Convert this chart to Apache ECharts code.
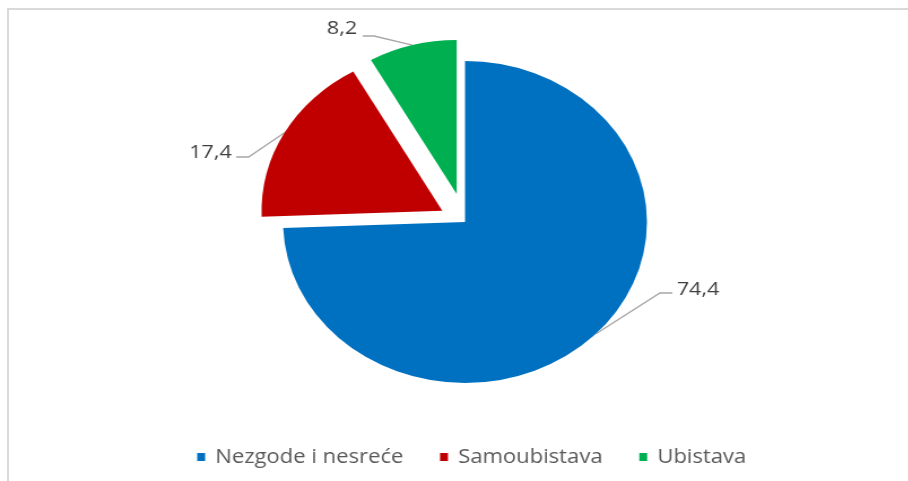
<!DOCTYPE html>
<html><head><meta charset="utf-8">
<script src="https://cdn.jsdelivr.net/npm/echarts@6/dist/echarts.min.js"></script>
<style>
html,body{margin:0;padding:0;background:#fff;overflow:hidden;width:908px;height:481px;}
#frame{position:absolute;left:7px;top:8px;width:910px;height:480px;border:2px solid #d9d9d9;box-sizing:border-box;}
#main{position:absolute;left:0;top:0;width:804px;height:481px;transform:scaleX(1.13);transform-origin:0 0;}
</style></head><body>
<div id="frame"></div>
<div id="main"></div>
<script>
const categories = ['Nezgode i nesreće', 'Samoubistava', 'Ubistava'];
const values = [74.4, 17.4, 8.2];
const colors = ['#0070C0', '#C00000', '#00B050'];
const explodeDist = [0, 23, 29];   // pull-out distance of each slice (layout)
const sliceRadius = [161, 160, 154]; // drawn radius of each slice (layout)

// label placement (layout only, chart space)
const labelSpots = [
  {x: 599, y: 290, align: 'left', elbow: [584, 293], end: [595, 293]},
  {x: 205, y: 153, align: 'right', elbow: [220, 157], end: [209, 157]},
  {x: 316, y: 29, align: 'right', elbow: [331, 36], end: [321, 36]}
];

const CX = 411.5, CY = 222;
const total = values.reduce((a, b) => a + b, 0);
let acc = 0;
const centers = values.map((v, i) => {
  const mid = (acc + v / 2) / total * 2 * Math.PI; // clockwise from 12 o'clock
  acc += v;
  const d = explodeDist[i];
  return [CX + d * Math.sin(mid), CY - d * Math.cos(mid)];
});

const fmt = p => String(p.value).replace('.', ',');

const series = categories.map((cat, k) => ({
  type: 'pie',
  name: cat,
  center: centers[k],
  radius: sliceRadius[k],
  startAngle: 90,
  clockwise: true,
  avoidLabelOverlap: false,
  emphasis: {disabled: true},
  silent: true,
  itemStyle: {borderWidth: 0},
  data: categories.map((n, i) => ({
    name: n,
    value: values[i],
    itemStyle: {color: i === k ? colors[i] : 'rgba(0,0,0,0)', borderWidth: 0},
    label: {show: i === k},
    labelLine: {show: i === k}
  })),
  label: {
    position: 'outside',
    formatter: fmt,
    fontFamily: 'Open Sans', fontSize: 19, color: '#404040'
  },
  labelLine: {length: 20, length2: 10, smooth: false,
    lineStyle: {color: '#a6a6a6', width: 1.3}},
  labelLayout: function (params) {
    const s = labelSpots[params.dataIndex];
    const p = params.labelLinePoints;
    const res = {x: s.x, y: s.y, align: s.align, verticalAlign: 'middle'};
    if (p && p[0]) res.labelLinePoints = [p[0], s.elbow, s.end];
    return res;
  }
}));

const chart = echarts.init(document.getElementById('main'), null, {renderer: 'canvas'});
chart.setOption({
  animation: false,
  backgroundColor: 'transparent',
  legend: {
    data: categories.map((n, i) => ({name: n, itemStyle: {color: colors[i]}})),
    left: 174.5,
    top: 447,
    padding: 0,
    icon: 'rect',
    itemWidth: 7,
    itemHeight: 8,
    itemGap: 32.5,
    selectedMode: false,
    textStyle: {fontFamily: 'Open Sans', fontSize: 19.5, color: '#595959', padding: [0, 0, 0, 4]}
  },
  series: series
});
</script>
</body></html>
